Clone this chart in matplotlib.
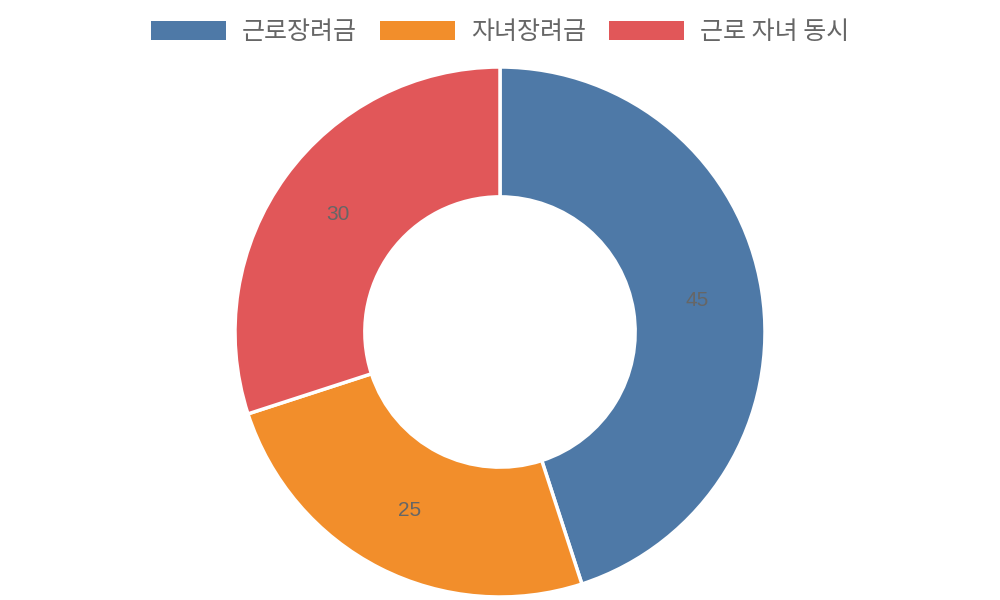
import matplotlib
matplotlib.use('Agg')
import matplotlib.pyplot as plt
from matplotlib.patches import Patch
import numpy as np

plt.rcParams['font.family'] = ['Noto Sans CJK KR', 'DejaVu Sans']

labels = ['근로장려금', '자녀장려금', '근로 자녀 동시']
values = [45, 25, 30]
colors = ['#4e79a7', '#f28e2b', '#e15759']

fig = plt.figure(figsize=(10, 6), dpi=100)
# circle: center (500, 332) px, outer radius 265 px
ax = fig.add_axes([235 / 1000, 3 / 600, 530 / 1000, 530 / 600])
wedges, _ = ax.pie(values, colors=colors, startangle=90, counterclock=False,
                   radius=1.0, wedgeprops=dict(width=0.49, edgecolor='white', linewidth=2.5))
total = sum(values)
start = 90
for v in values:
    mid = np.deg2rad(start - v / total * 360 / 2)
    r = 0.755
    ax.text(r * np.cos(mid), r * np.sin(mid), str(v), ha='center', va='center',
            fontsize=15, color='#666666', family=['Liberation Sans', 'DejaVu Sans'])
    start -= v / total * 360
ax.set_xlim(-1, 1)
ax.set_ylim(-1, 1)
ax.set_aspect('equal')
ax.axis('off')

handles = [Patch(facecolor=c, edgecolor='none') for c in colors]
fig.legend(handles, labels, loc='center', bbox_to_anchor=(0.5, 1 - 32 / 600), ncol=3,
           frameon=False, fontsize=18, labelcolor='#666666', handlelength=3.0,
           handleheight=0.8, columnspacing=0.92, handletextpad=0.64)

fig.savefig('out.png', dpi=100)
